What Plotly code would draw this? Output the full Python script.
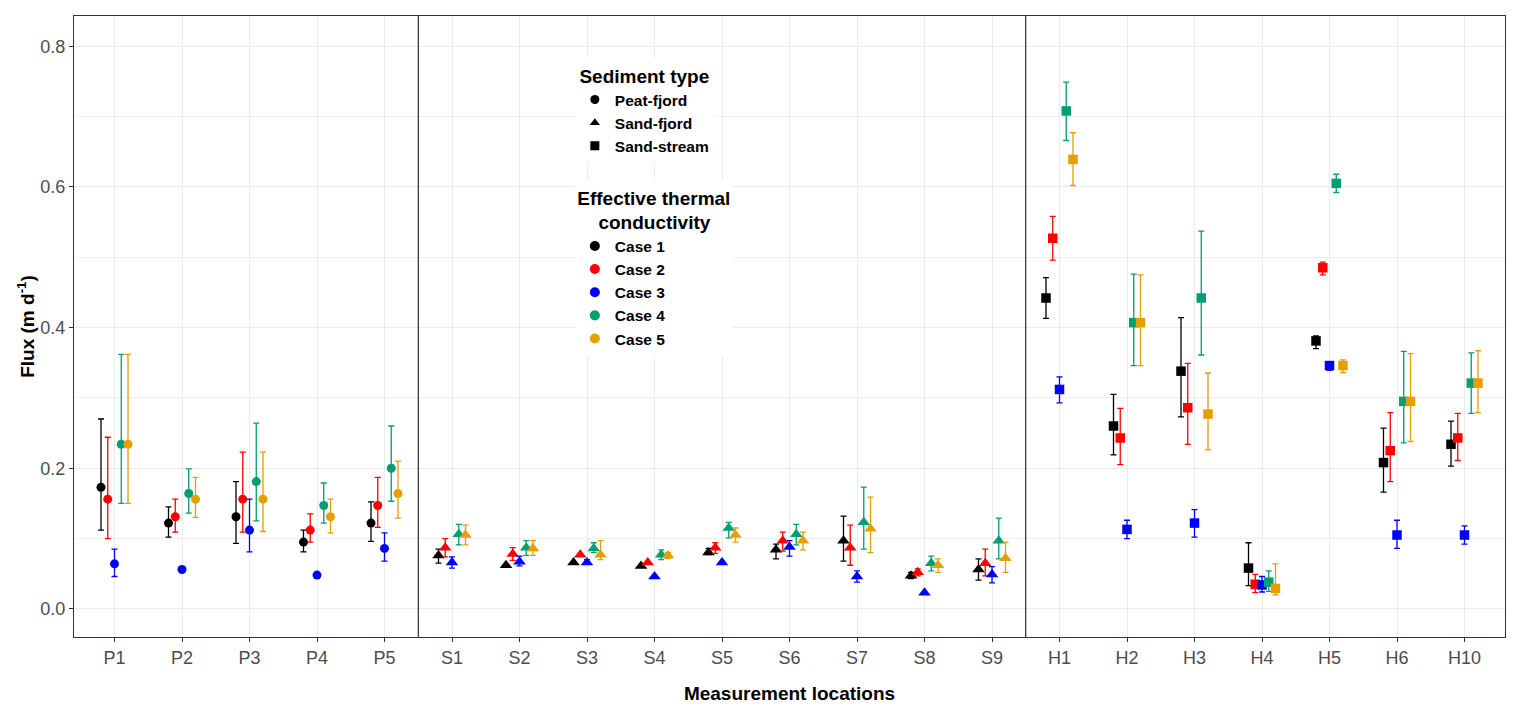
import plotly.graph_objects as go

# Measurement locations and sediment type of each location
locations = ['P1', 'P2', 'P3', 'P4', 'P5',
             'S1', 'S2', 'S3', 'S4', 'S5', 'S6', 'S7', 'S8', 'S9',
             'H1', 'H2', 'H3', 'H4', 'H5', 'H6', 'H10']
sediment = ['Peat-fjord'] * 5 + ['Sand-fjord'] * 9 + ['Sand-stream'] * 7

# Flux (m/d) per effective thermal conductivity case, with error bar limits
case1_flux = [0.173, 0.122, 0.131, 0.095, 0.122,
              0.076, 0.062, 0.066, 0.061, 0.080, 0.084, 0.097, 0.047, 0.056,
              0.442, 0.260, 0.338, 0.058, 0.381, 0.208, 0.234]
case1_upper = [0.270, 0.145, 0.181, 0.112, 0.152,
               0.085, 0.062, 0.066, 0.061, 0.086, 0.092, 0.132, 0.052, 0.071,
               0.471, 0.305, 0.414, 0.094, 0.388, 0.257, 0.267]
case1_lower = [0.112, 0.102, 0.093, 0.081, 0.096,
               0.065, 0.062, 0.066, 0.061, 0.077, 0.071, 0.068, 0.043, 0.041,
               0.413, 0.219, 0.273, 0.033, 0.370, 0.166, 0.203]

case2_flux = [0.156, 0.131, 0.156, 0.112, 0.147,
              0.087, 0.078, 0.077, 0.066, 0.087, 0.097, 0.087, 0.052, 0.065,
              0.527, 0.243, 0.286, 0.035, 0.485, 0.225, 0.243]
case2_upper = [0.244, 0.156, 0.223, 0.135, 0.187,
               0.100, 0.087, 0.077, 0.066, 0.094, 0.109, 0.119, 0.057, 0.085,
               0.558, 0.285, 0.349, 0.049, 0.493, 0.279, 0.278]
case2_lower = [0.100, 0.109, 0.109, 0.095, 0.116,
               0.074, 0.069, 0.077, 0.066, 0.079, 0.082, 0.062, 0.047, 0.047,
               0.496, 0.205, 0.234, 0.023, 0.475, 0.181, 0.211]

case3_flux = [0.064, 0.056, 0.112, 0.048, 0.086,
              0.066, 0.067, 0.066, 0.046, 0.066, 0.088, 0.046, 0.023, 0.049,
              0.312, 0.113, 0.122, 0.034, 0.346, 0.105, 0.105]
case3_upper = [0.085, 0.056, 0.156, 0.048, 0.108,
               0.074, 0.075, 0.070, 0.046, 0.066, 0.097, 0.054, 0.023, 0.060,
               0.330, 0.126, 0.141, 0.046, 0.346, 0.126, 0.118]
case3_lower = [0.046, 0.056, 0.081, 0.048, 0.068,
               0.058, 0.061, 0.066, 0.046, 0.066, 0.075, 0.038, 0.023, 0.037,
               0.293, 0.100, 0.102, 0.024, 0.339, 0.086, 0.092]

case4_flux = [0.234, 0.164, 0.181, 0.147, 0.200,
              0.106, 0.087, 0.086, 0.077, 0.115, 0.106, 0.123, 0.065, 0.097,
              0.708, 0.407, 0.442, 0.038, 0.605, 0.295, 0.321]
case4_upper = [0.362, 0.199, 0.264, 0.179, 0.260,
               0.120, 0.097, 0.094, 0.084, 0.123, 0.120, 0.173, 0.075, 0.129,
               0.749, 0.476, 0.537, 0.054, 0.618, 0.366, 0.364]
case4_lower = [0.150, 0.136, 0.125, 0.122, 0.153,
               0.091, 0.076, 0.080, 0.070, 0.101, 0.091, 0.085, 0.054, 0.071,
               0.666, 0.346, 0.361, 0.025, 0.592, 0.236, 0.278]

case5_flux = [0.234, 0.156, 0.156, 0.131, 0.164,
              0.105, 0.086, 0.077, 0.076, 0.105, 0.097, 0.114, 0.062, 0.072,
              0.639, 0.407, 0.277, 0.029, 0.346, 0.295, 0.321]
case5_upper = [0.362, 0.187, 0.223, 0.156, 0.210,
               0.119, 0.097, 0.097, 0.080, 0.115, 0.109, 0.159, 0.071, 0.095,
               0.677, 0.475, 0.335, 0.064, 0.354, 0.363, 0.367]
case5_lower = [0.150, 0.130, 0.110, 0.108, 0.129,
               0.091, 0.076, 0.070, 0.072, 0.095, 0.084, 0.080, 0.052, 0.052,
               0.602, 0.346, 0.226, 0.020, 0.336, 0.238, 0.279]

case_names = ['Case 1', 'Case 2', 'Case 3', 'Case 4', 'Case 5']
case_colors = ['#000000', '#FF0000', '#0000FF', '#009E73', '#E69F00']
sediment_types = ['Peat-fjord', 'Sand-fjord', 'Sand-stream']
sediment_symbols = {'Peat-fjord': 'circle', 'Sand-fjord': 'triangle-up', 'Sand-stream': 'square'}
sediment_sizes = {'Peat-fjord': 9, 'Sand-fjord': 11, 'Sand-stream': 9.5}

cases = [
    (case1_flux, case1_upper, case1_lower),
    (case2_flux, case2_upper, case2_lower),
    (case3_flux, case3_upper, case3_lower),
    (case4_flux, case4_upper, case4_lower),
    (case5_flux, case5_upper, case5_lower),
]

symbols = [sediment_symbols[s] for s in sediment]
sizes = [sediment_sizes[s] for s in sediment]

fig = go.Figure()

# One trace per case, dodged per location
for i, (flux, upper, lower) in enumerate(cases):
    fig.add_trace(go.Scatter(
        x=locations,
        y=flux,
        mode='markers',
        name=case_names[i],
        legend='legend2',
        offsetgroup=case_names[i],
        alignmentgroup='cases',
        marker=dict(color=case_colors[i], symbol=symbols, size=sizes,
                    opacity=1, line=dict(width=0)),
        error_y=dict(
            type='data',
            symmetric=False,
            array=[u - f for u, f in zip(upper, flux)],
            arrayminus=[f - l for f, l in zip(flux, lower)],
            color=case_colors[i],
            thickness=1.3,
            width=3,
        ),
        hovertemplate='%{x}<br>Flux: %{y:.3f} m/d<extra>' + case_names[i] + '</extra>',
    ))

# Legend entries for sediment type (shape only)
for s in sediment_types:
    fig.add_trace(go.Scatter(
        x=[None], y=[None],
        mode='markers',
        name=s,
        legend='legend',
        alignmentgroup='legend_only',
        marker=dict(color='black', symbol=sediment_symbols[s], size=9, opacity=1),
        hoverinfo='skip',
    ))

# Separators between sediment groups
for xsep in [4.5, 13.5]:
    fig.add_shape(type='line', xref='x', yref='paper', x0=xsep, x1=xsep, y0=0, y1=1,
                  line=dict(color='black', width=1))

fig.update_layout(
    width=1507,
    height=703,
    plot_bgcolor='white',
    paper_bgcolor='white',
    font=dict(family='Liberation Sans, Arial, sans-serif', color='black'),
    scattermode='group',
    scattergap=0.5,
    margin=dict(l=66, r=10, t=8, b=74),
    legend=dict(
        title=dict(text='<b>Sediment type</b>', font=dict(size=19), side='top center'),
        font=dict(size=15.5, color='black', weight='bold'),
        x=0.350, y=0.932, xanchor='left', yanchor='top',
        bgcolor='white',
        itemwidth=30,
    ),
    legend2=dict(
        title=dict(text='<b>Effective thermal<br>&nbsp;&nbsp;&nbsp;&nbsp;conductivity</b>',
                   font=dict(size=19), side='top center'),
        font=dict(size=15.5, color='black', weight='bold'),
        x=0.350, y=0.736, xanchor='left', yanchor='top',
        bgcolor='white',
        itemwidth=30,
    ),
)

fig.update_xaxes(
    type='category',
    categoryorder='array',
    categoryarray=locations,
    range=[-0.6, 20.6],
    showgrid=True,
    gridcolor='#EBEBEB',
    gridwidth=1,
    showline=True,
    linecolor='#333333',
    mirror=True,
    ticks='outside',
    ticklen=4,
    tickcolor='#333333',
    tickfont=dict(size=18, color='#4D4D4D'),
    title=dict(text='<b>Measurement locations</b>', font=dict(size=19, color='black'), standoff=20),
    zeroline=False,
)

fig.update_yaxes(
    range=[-0.04, 0.843],
    tickvals=[0.0, 0.2, 0.4, 0.6, 0.8],
    ticktext=['0.0', '0.2', '0.4', '0.6', '0.8'],
    showgrid=True,
    gridcolor='#EBEBEB',
    gridwidth=1,
    minor=dict(tickvals=[0.1, 0.3, 0.5, 0.7], showgrid=True, gridcolor='#F0F0F0', gridwidth=0.8),
    showline=True,
    linecolor='#333333',
    mirror=True,
    ticks='outside',
    ticklen=4,
    tickcolor='#333333',
    tickfont=dict(size=18, color='#4D4D4D'),
    title=dict(text='<b>Flux (m d<sup>-1</sup>)</b>', font=dict(size=19, color='black'), standoff=0),
    zeroline=False,
)

fig.write_html('out.html')
